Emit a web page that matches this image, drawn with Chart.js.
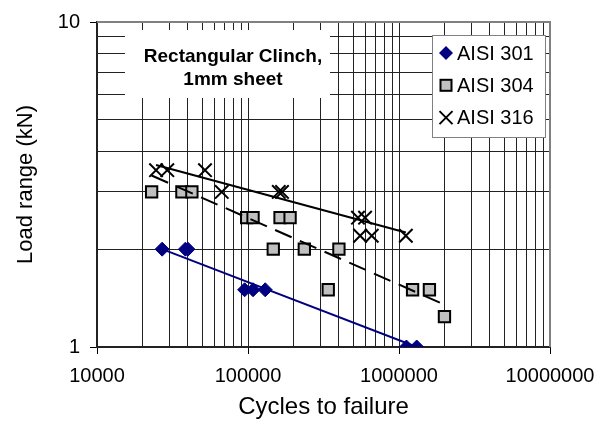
<!DOCTYPE html>
<html>
<head>
<meta charset="utf-8">
<script src="https://cdn.jsdelivr.net/npm/chart.js@4.4.1/dist/chart.umd.min.js"></script>
<style>
html, body { margin: 0; padding: 0; background: #fff; }
</style>
</head>
<body>
<canvas id="fatigueChart" width="609" height="422"></canvas>
<script>
// Data (cycles to failure vs load range in kN)
var cycles301 = [27000, 38500, 40000, 95000, 108000, 130000, 1120000, 1310000];
var load301 = [2, 2, 2, 1.5, 1.5, 1.5, 1, 1];

var cycles304 = [23000, 36500, 42500, 98000, 108000, 163000, 190000, 147000, 236000, 400000, 340000, 1230000, 1590000, 2000000];
var load304 = [3, 3, 3, 2.5, 2.5, 2.5, 2.5, 2, 2, 2, 1.5, 1.5, 1.5, 1.24];

var cycles316 = [24600, 29200, 51900, 67000, 160000, 168000, 535000, 596000, 553000, 660000, 1110000];
var load316 = [3.5, 3.5, 3.5, 3, 3, 3, 2.5, 2.5, 2.2, 2.2, 2.2];

// Power trend lines (end points)
var trendCycles301 = [27000, 1310000];
var trendLoad301 = [2.0, 1.0];
var trendCycles304 = [23000, 2000000];
var trendLoad304 = [3.37, 1.35];
var trendCycles316 = [24600, 1110000];
var trendLoad316 = [3.63, 2.25];

var seriesNames = ['AISI 301', 'AISI 304', 'AISI 316'];
var xTickLabels = ['10000', '100000', '1000000', '10000000'];
var yTickLabels = ['1', '10'];
var yGridValues = [1, 2, 3, 4, 5, 6, 7, 8, 9, 10];
var xDecades = [10000, 100000, 1000000];
var noteLines = ['Rectangular Clinch,', '1mm sheet'];

var navy = '#000080';
var font = "'Liberation Sans', Arial, sans-serif";

function toPoints(xs, ys) {
    var pts = [];
    for (var i = 0; i < xs.length; i++) {
        pts.push({ x: xs[i], y: ys[i] });
    }
    return pts;
}

function isDecade(v) {
    var l = Math.log10(v);
    return Math.abs(l - Math.round(l)) < 1e-9;
}

function decadeLabel(v, labels) {
    if (!isDecade(v)) return '';
    for (var i = 0; i < labels.length; i++) {
        if (Math.abs(parseFloat(labels[i]) - v) < 1e-6 * v) return labels[i];
    }
    return '';
}

// Grid positions 1..9 within each decade of the x axis
function xGridTicks() {
    var ticks = [];
    for (var d = 0; d < xDecades.length; d++) {
        for (var m = 1; m <= 9; m++) {
            ticks.push({ value: xDecades[d] * m });
        }
    }
    ticks.push({ value: 10000000 });
    return ticks;
}

// Draw one legend marker the same way as the series
function drawMarker(ctx, kind, x, y) {
    ctx.save();
    if (kind === 0) {
        ctx.fillStyle = navy;
        ctx.beginPath();
        ctx.moveTo(x - 7, y);
        ctx.lineTo(x, y - 7);
        ctx.lineTo(x + 7, y);
        ctx.lineTo(x, y + 7);
        ctx.closePath();
        ctx.fill();
    } else if (kind === 1) {
        ctx.fillStyle = '#c0c0c0';
        ctx.strokeStyle = '#000';
        ctx.lineWidth = 2;
        ctx.fillRect(x - 5.5, y - 5.5, 11, 11);
        ctx.strokeRect(x - 5.5, y - 5.5, 11, 11);
    } else {
        ctx.strokeStyle = '#000';
        ctx.lineWidth = 2;
        ctx.beginPath();
        ctx.moveTo(x - 6.5, y - 6.5);
        ctx.lineTo(x + 6.5, y + 6.5);
        ctx.moveTo(x + 6.5, y - 6.5);
        ctx.lineTo(x - 6.5, y + 6.5);
        ctx.stroke();
    }
    ctx.restore();
}

var decorPlugin = {
    id: 'decor',
    beforeDraw: function(chart) {
        var ctx = chart.ctx;
        ctx.save();
        ctx.fillStyle = '#fff';
        ctx.fillRect(0, 0, chart.width, chart.height);
        ctx.restore();
    },
    beforeDatasetsDraw: function(chart) {
        var ctx = chart.ctx;
        var a = chart.chartArea;
        ctx.save();
        // plot frame top / right
        ctx.strokeStyle = '#808080';
        ctx.lineWidth = 2;
        ctx.beginPath();
        ctx.moveTo(a.left, a.top);
        ctx.lineTo(a.right, a.top);
        ctx.lineTo(a.right, a.bottom);
        ctx.stroke();

        // text note
        ctx.fillStyle = '#fff';
        ctx.fillRect(125, 30, 205, 68);
        ctx.fillStyle = '#000';
        ctx.font = 'bold 19px ' + font;
        ctx.textAlign = 'center';
        ctx.textBaseline = 'middle';
        ctx.fillText(noteLines[0], 233, 57);
        ctx.fillText(noteLines[1], 233, 80);
        ctx.restore();
    },
    afterDatasetsDraw: function(chart) {
        var ctx = chart.ctx;
        ctx.save();
        ctx.fillStyle = '#fff';
        ctx.fillRect(432, 35, 113, 102);
        ctx.strokeStyle = '#808080';
        ctx.lineWidth = 1;
        ctx.strokeRect(432.5, 35.5, 113, 102);
        ctx.font = '20px ' + font;
        ctx.textAlign = 'left';
        ctx.textBaseline = 'middle';
        ctx.fillStyle = '#000';
        for (var i = 0; i < seriesNames.length; i++) {
            var y = 53 + i * 32.3;
            drawMarker(ctx, i, 446, y);
            ctx.fillText(seriesNames[i], 457, y + 1);
        }
        ctx.restore();
    }
};

var ctx = document.getElementById('fatigueChart').getContext('2d');

var fatigueChart = new Chart(ctx, {
    type: 'scatter',
    data: {
        datasets: [
            {
                label: 'trend 301',
                type: 'line',
                data: toPoints(trendCycles301, trendLoad301),
                borderColor: navy,
                borderWidth: 2,
                pointRadius: 0,
                fill: false,
                order: 0
            },
            {
                label: 'trend 304',
                type: 'line',
                data: toPoints(trendCycles304, trendLoad304),
                borderColor: '#000',
                borderWidth: 2,
                borderDash: [18, 9],
                pointRadius: 0,
                fill: false,
                order: 0
            },
            {
                label: 'trend 316',
                type: 'line',
                data: toPoints(trendCycles316, trendLoad316),
                borderColor: '#000',
                borderWidth: 2,
                pointRadius: 0,
                fill: false,
                order: 0
            },
            {
                label: seriesNames[0],
                data: toPoints(cycles301, load301),
                pointStyle: 'rectRot',
                pointRadius: 7,
                backgroundColor: navy,
                borderColor: navy,
                borderWidth: 1,
                order: 1
            },
            {
                label: seriesNames[1],
                data: toPoints(cycles304, load304),
                pointStyle: 'rect',
                pointRadius: 8,
                backgroundColor: '#c0c0c0',
                borderColor: '#000',
                borderWidth: 2,
                order: 1
            },
            {
                label: seriesNames[2],
                data: toPoints(cycles316, load316),
                pointStyle: 'crossRot',
                pointRadius: 9.5,
                backgroundColor: '#000',
                borderColor: '#000',
                borderWidth: 2,
                order: 1
            }
        ]
    },
    options: {
        responsive: false,
        animation: false,
        layout: {
            padding: { left: 0, top: 15, right: 59, bottom: 0 }
        },
        plugins: {
            legend: { display: false },
            tooltip: { enabled: false }
        },
        scales: {
            x: {
                type: 'logarithmic',
                min: 10000,
                max: 10000000,
                afterBuildTicks: function(scale) { scale.ticks = xGridTicks(); },
                afterFit: function(scale) { scale.height = 75; },
                border: { color: '#222', width: 2 },
                grid: {
                    color: '#222',
                    lineWidth: 1,
                    tickLength: 7,
                    tickColor: function(c) { return c.tick && isDecade(c.tick.value) ? '#000' : 'rgba(0,0,0,0)'; }
                },
                ticks: {
                    autoSkip: false,
                    maxRotation: 0,
                    padding: 10,
                    color: '#000',
                    font: { family: font, size: 20 },
                    callback: function(v) { return decadeLabel(v, xTickLabels); }
                },
                title: {
                    display: true,
                    text: 'Cycles to failure',
                    color: '#000',
                    font: { family: font, size: 24 },
                    padding: { top: 0, bottom: 0 }
                }
            },
            y: {
                type: 'logarithmic',
                min: 1,
                max: 10,
                afterBuildTicks: function(scale) {
                    scale.ticks = yGridValues.map(function(v) { return { value: v }; });
                },
                afterFit: function(scale) { scale.width = 97; },
                border: { color: '#222', width: 2 },
                grid: {
                    color: '#222',
                    lineWidth: 1,
                    tickLength: 7,
                    tickColor: function(c) { return c.tick && isDecade(c.tick.value) ? '#000' : 'rgba(0,0,0,0)'; }
                },
                ticks: {
                    autoSkip: false,
                    padding: 10,
                    color: '#000',
                    font: { family: font, size: 20 },
                    callback: function(v) { return decadeLabel(v, yTickLabels); }
                },
                title: {
                    display: true,
                    text: 'Load range (kN)',
                    color: '#000',
                    font: { family: font, size: 22 },
                    padding: { top: 13, bottom: 0 }
                }
            }
        }
    },
    plugins: [decorPlugin]
});
</script>
</body>
</html>
